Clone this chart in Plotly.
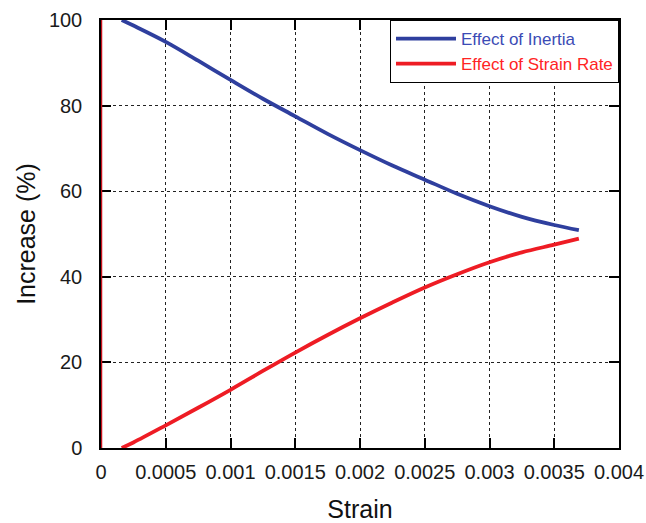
import plotly.graph_objects as go

# Strain values along the test
strain = [0.00016, 0.00025, 0.0005, 0.00075, 0.001, 0.00125, 0.0015, 0.00175,
          0.002, 0.00225, 0.0025, 0.00275, 0.003, 0.00325, 0.0035, 0.00369]

# Percentage increase attributed to each effect
inertia = [100.0, 98.7, 94.9, 90.5, 86.0, 81.6, 77.5, 73.4,
           69.6, 66.0, 62.7, 59.4, 56.5, 54.0, 52.1, 50.9]
strain_rate = [0.0, 1.3, 5.3, 9.4, 13.6, 18.0, 22.3, 26.4,
               30.3, 34.0, 37.5, 40.6, 43.4, 45.7, 47.5, 48.9]

# Vertical segment at zero strain
zero_strain = [0.0, 0.0]
zero_span = [0.0, 100.0]

x_ticks = [0, 0.0005, 0.001, 0.0015, 0.002, 0.0025, 0.003, 0.0035, 0.004]
x_tick_text = ["0", "0.0005", "0.001", "0.0015", "0.002", "0.0025", "0.003", "0.0035", "0.004"]
y_ticks = [0, 20, 40, 60, 80, 100]

BLUE = "#2f3f9e"
RED = "#ee1c24"
FONT = "Arial, Liberation Sans, sans-serif"

fig = go.Figure()
fig.add_trace(go.Scatter(
    x=zero_strain, y=zero_span, mode="lines", showlegend=False,
    line=dict(color="#c8101c", width=2.5), cliponaxis=False, hoverinfo="skip"))
fig.add_trace(go.Scatter(
    x=strain, y=inertia, mode="lines", cliponaxis=False,
    name="<span style='color:#3b4bb5'>Effect of Inertia</span>",
    line=dict(color=BLUE, width=3.8, shape="spline")))
fig.add_trace(go.Scatter(
    x=strain, y=strain_rate, mode="lines", cliponaxis=False,
    name="<span style='color:#ff2424'>Effect of Strain Rate</span>",
    line=dict(color=RED, width=3.8, shape="spline")))

axis_common = dict(
    showline=True, linecolor="black", linewidth=1.5, mirror="ticks",
    ticks="inside", ticklen=10, tickwidth=1.5, tickcolor="black",
    showgrid=True, gridcolor="#222222", gridwidth=1, griddash="dot",
    zeroline=False, automargin=False,
    tickfont=dict(family=FONT, size=20, color="#1a1a1a"),
)

fig.update_xaxes(
    range=[0, 0.004], tickvals=x_ticks, ticktext=x_tick_text,
    ticklabelstandoff=5,
    title=dict(text="Strain", font=dict(family=FONT, size=25, color="#111111"), standoff=30),
    **axis_common)
fig.update_yaxes(
    range=[0, 100], tickvals=y_ticks, layer="below traces",
    ticklabelstandoff=13,
    title=dict(text="Increase (%)", font=dict(family=FONT, size=25, color="#111111"), standoff=6),
    **axis_common)

fig.update_layout(
    width=646, height=523,
    margin=dict(l=101, r=27, t=20, b=75),
    paper_bgcolor="white", plot_bgcolor="white",
    font=dict(family=FONT),
    legend=dict(
        x=1, y=1, xanchor="right", yanchor="top",
        bgcolor="white", bordercolor="black", borderwidth=1,
        font=dict(family=FONT, size=17), itemwidth=60,
        tracegroupgap=0,
    ),
)

fig.write_html("out.html")
